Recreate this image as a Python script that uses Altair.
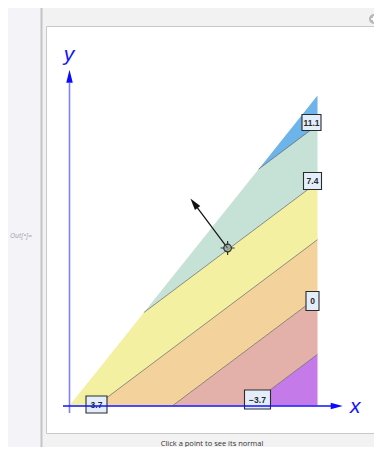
import math
import altair as alt
import pandas as pd

# ---------------- data ----------------
REGION_X_MAX = 4.0            # domain: 0 <= x <= 4
REGION_SLOPE = 1.25           # and 0 <= y <= 1.25 x
F_A, F_B, F_C = -3.0, 4.0, 5.0  # f(x, y) = -3 x + 4 y + 5
LEVELS = [-3.7, 0.0, 3.7, 7.4, 11.1]
LEVEL_TEXT = ["\u22123.7", "0", "3.7", "7.4", "11.1"]
BANDS = ["b0", "b1", "b2", "b3", "b4", "b5"]
POINT = [2.55, 2.54]
NORMAL = [-0.6, 0.8]

# ---------------- layout / style ----------------
W, H = 366, 439
PX = 62.0                 # pixels per data unit
X0, Y0 = 61.5, 397.5      # chart-pixel position of data origin
XDOM = [(0 - X0) / PX, (W - X0) / PX]
YDOM = [(Y0 - H) / PX, (Y0 - 0) / PX]
BAND_COLORS = ["#c47be9", "#e4b1aa", "#f3d39b", "#f3f0a2", "#c6e2d7", "#6db4ea"]
LABEL_CENTER_PAGE = {"\u22123.7": (257.5, 399.5), "0": (312.5, 301.0), "3.7": (96.5, 404.5),
                     "7.4": (312.5, 181.0), "11.1": (311.5, 122.5)}
LABEL_BOX = {"\u22123.7": (26, 19), "0": (13, 19), "3.7": (21, 17), "7.4": (18, 17), "11.1": (19, 16)}


def page_to_data(px, py):
    return ((px - 8) - X0) / PX, (Y0 - (py - 8)) / PX


xs = alt.X("x:Q", scale=alt.Scale(domain=XDOM, nice=False, zero=False), axis=None)
ys = alt.Y("y:Q", scale=alt.Scale(domain=YDOM, nice=False, zero=False), axis=None, stack=None)


def line_y(L, x):
    return (L - F_C - F_A * x) / F_B


# band polygons
bps = {0.0, REGION_X_MAX}
for L in LEVELS:
    for xb in [(L - F_C) / F_A, (L - F_C) / (F_A + F_B * REGION_SLOPE)]:
        if 0 <= xb <= REGION_X_MAX:
            bps.add(xb)
bps = sorted(bps)
rows = []
for i, b in enumerate(BANDS):
    lower = LEVELS[i - 1] if i > 0 else None
    upper = LEVELS[i] if i < len(LEVELS) else None
    for x in bps:
        top = REGION_SLOPE * x
        lo = 0.0 if lower is None else max(0.0, min(line_y(lower, x), top))
        hi = top if upper is None else min(top, max(line_y(upper, x), 0.0))
        hi = max(hi, lo)
        rows.append({"band": b, "x": x, "y": lo, "y2": hi})
band_df = pd.DataFrame(rows)

bands = alt.Chart(band_df).mark_area(opacity=1).encode(
    x=xs, y=ys, y2="y2:Q", detail="band:N",
    color=alt.Color("band:N", scale=alt.Scale(domain=BANDS, range=BAND_COLORS), legend=None),
)

# contour lines
crow = []
for L in LEVELS:
    xs0 = max(0.0, (L - F_C) / F_A, (L - F_C) / (F_A + F_B * REGION_SLOPE))
    for x in [xs0, REGION_X_MAX]:
        crow.append({"level": L, "x": x, "y": line_y(L, x)})
contours = alt.Chart(pd.DataFrame(crow)).mark_line(color="#5e5e5e", strokeWidth=0.8, opacity=0.85).encode(
    x=xs, y=ys, detail="level:N")

# contour labels
lrows = []
for t in LEVEL_TEXT:
    cx, cy = page_to_data(*LABEL_CENTER_PAGE[t])
    w, h = LABEL_BOX[t]
    lrows.append({"t": t, "x": cx, "y": cy, "x1": cx - w / 2 / PX, "x2": cx + w / 2 / PX,
                  "y1": cy - h / 2 / PX, "y2": cy + h / 2 / PX})
ldf = pd.DataFrame(lrows)
label_boxes = alt.Chart(ldf).mark_rect(fill="#e4eefa", stroke="#2a2a2a", strokeWidth=1.1).encode(
    x=alt.X("x1:Q", scale=alt.Scale(domain=XDOM, nice=False, zero=False), axis=None), x2="x2:Q",
    y=alt.Y("y1:Q", scale=alt.Scale(domain=YDOM, nice=False, zero=False), axis=None), y2="y2:Q")
label_text = alt.Chart(ldf).mark_text(font="Liberation Sans", fontSize=8.5, fontWeight="bold",
                                      color="#2a2a2a", align="center", baseline="middle").encode(
    x=xs, y=ys, text="t:N")

one = pd.DataFrame({"a": [0]})

# axes (in data coordinates)
xaxis_df = pd.DataFrame({"x": [-0.105], "x2": [4.33], "y": [-0.008], "y2": [-0.008]})
yaxis_df = pd.DataFrame({"x": [0.0], "x2": [0.0], "y": [-0.12], "y2": [5.2]})
x_axis = alt.Chart(xaxis_df).mark_rule(color="#1010ff", strokeWidth=1.4).encode(x=xs, x2="x2:Q", y=ys, y2="y2:Q")
y_axis = alt.Chart(yaxis_df).mark_rule(color="#8080ff", strokeWidth=1.6).encode(x=xs, x2="x2:Q", y=ys, y2="y2:Q")
x_head = alt.Chart(pd.DataFrame({"x": [4.31], "y": [-0.008]})).mark_point(
    shape="M1,0L-1,-0.55L-1,0.55Z", filled=True, color="#0a0aff", opacity=1, size=144).encode(x=xs, y=ys)
y_head = alt.Chart(pd.DataFrame({"x": [0.0], "y": [5.31]})).mark_point(
    shape="M0,-1L-0.5,1L0.5,1Z", filled=True, color="#0a0aff", opacity=1, size=169).encode(x=xs, y=ys)
ax_lab = alt.Chart(pd.DataFrame({"x": [4.61, -0.01], "y": [-0.03, 5.66], "t": ["x", "y"]})).mark_text(
    font="Liberation Sans", fontSize=21, fontStyle="italic", color="#1414ff",
    align="center", baseline="middle").encode(x=xs, y=ys, text="t:N")

# normal arrow
nl = math.hypot(*NORMAL)
dx, dy = NORMAL[0] / nl, NORMAL[1] / nl
tip = (POINT[0] + NORMAL[0], POINT[1] + NORMAL[1])
shaft = alt.Chart(pd.DataFrame({"x": [POINT[0]], "y": [POINT[1]],
                                "x2": [tip[0] - dx * 8 / PX], "y2": [tip[1] - dy * 8 / PX]})).mark_rule(
    color="#111111", strokeWidth=1.2).encode(x=xs, y=ys, x2="x2:Q", y2="y2:Q")
ang = math.degrees(math.atan2(dx, dy)) % 360
head = alt.Chart(pd.DataFrame({"x": [tip[0] - dx * 6 / PX], "y": [tip[1] - dy * 6 / PX]})).mark_point(
    shape="M0,-1L-0.55,1L0.55,1Z", filled=True, color="#111111", opacity=1, size=144, angle=ang).encode(x=xs, y=ys)
pdf = pd.DataFrame({"x": [POINT[0]], "y": [POINT[1]]})
marker_c = alt.Chart(pdf).mark_point(shape="circle", size=60, filled=True, fill="#7d8f8a", fillOpacity=0.55,
                                     stroke="#333333", strokeWidth=1.1, opacity=1).encode(x=xs, y=ys)
marker_x = alt.Chart(pdf).mark_point(shape="M-1,0L-0.45,0M0.45,0L1,0M0,-1L0,-0.45M0,0.45L0,1",
                                     size=196, stroke="#333333", strokeWidth=1.2, opacity=1).encode(x=xs, y=ys)

# frame / UI decoration (layout in pixels)
outer = alt.Chart(one).mark_rect(fill="#f2f2f2", stroke="#c6c6c6", strokeWidth=1).encode(
    x=alt.value(33.5), x2=alt.value(395), y=alt.value(-0.5), y2=alt.value(460))
outer_left = alt.Chart(one).mark_rule(color="#c4c4c4", strokeWidth=2).encode(
    x=alt.value(33.5), y=alt.value(-1), y2=alt.value(460))
panel = alt.Chart(one).mark_rect(fill="#ffffff", stroke="#c9c9c9", strokeWidth=1).encode(
    x=alt.value(38.5), x2=alt.value(369.5), y=alt.value(18.5), y2=alt.value(425.5))
close_c = alt.Chart(one).mark_point(shape="circle", size=100, filled=True, color="#b8b8b8", opacity=1).encode(
    x=alt.value(366), y=alt.value(11))
close_p = alt.Chart(one).mark_point(shape="cross", size=30, filled=True, color="#ffffff", opacity=1).encode(
    x=alt.value(366), y=alt.value(11))
caption = alt.Chart(pd.DataFrame({"t": ["Click a point to see its normal"]})).mark_text(
    font="Open Sans", fontSize=7.5, color="#333333", align="center", baseline="middle").encode(
    x=alt.value(204), y=alt.value(436), text="t:N")
outlab = alt.Chart(pd.DataFrame({"t": ["Out[\u2022]="]})).mark_text(
    font="Open Sans", fontSize=7, fontStyle="italic", color="#a6a6b2", align="center", baseline="middle").encode(
    x=alt.value(13), y=alt.value(228), text="t:N")

chart = alt.layer(
    outer, outer_left, panel, close_c, close_p, outlab, caption,
    bands, contours, label_boxes, label_text,
    y_axis, x_axis, x_head, y_head, ax_lab,
    shaft, head, marker_c, marker_x,
).properties(
    width=W, height=H, padding=0, background="#f3f3f8",
    autosize=alt.AutoSizeParams(type="none"),
).configure_view(stroke=None)

chart.save("out.html", embed_options={"renderer": "svg", "actions": False})
